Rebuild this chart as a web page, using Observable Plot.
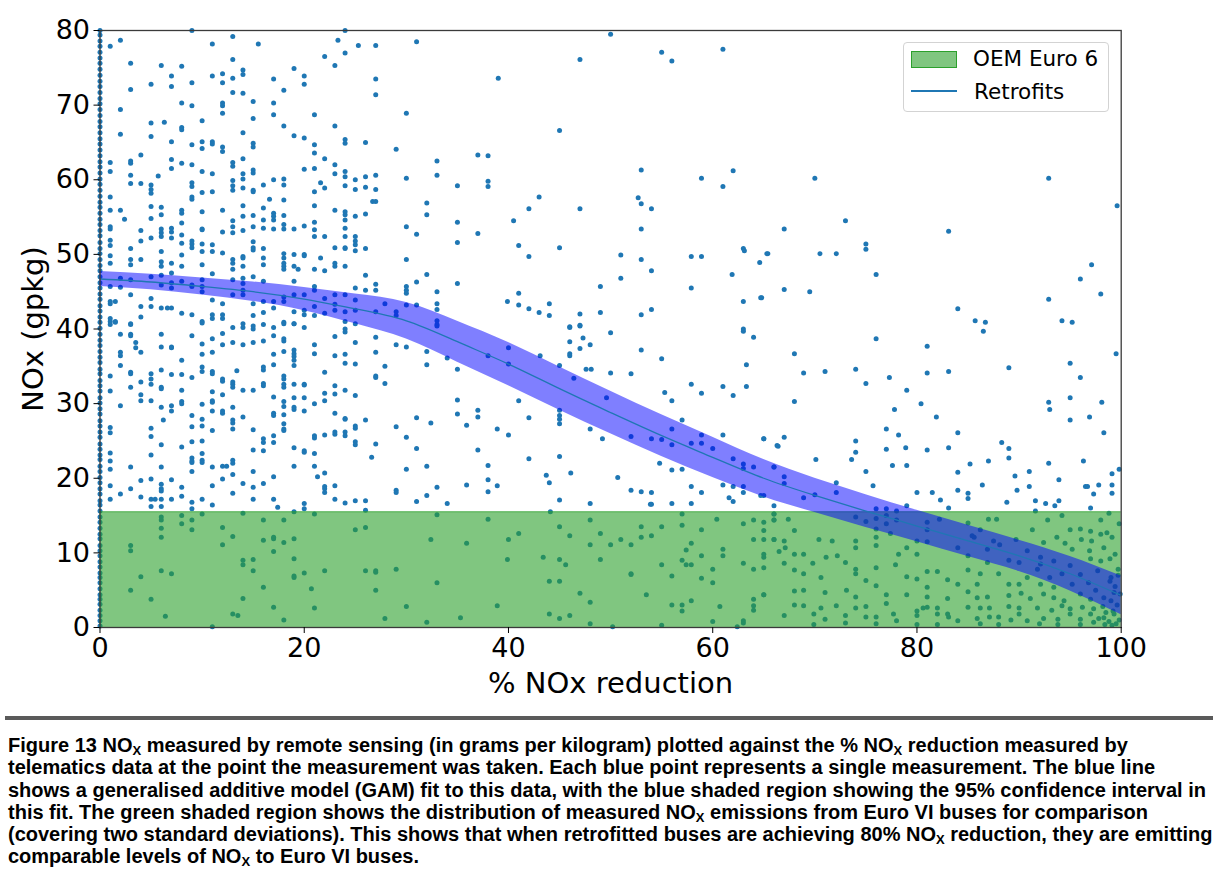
<!DOCTYPE html>
<html>
<head>
<meta charset="utf-8">
<script src="https://cdn.jsdelivr.net/npm/d3@7"></script>
<script src="https://cdn.jsdelivr.net/npm/@observablehq/plot@0.6"></script>
<style>
  body { margin: 0; background: #fff; }
  #wrap { position: relative; width: 1220px; }
  #legend { position: absolute; left: 903px; top: 42px; width: 206px; height: 70px; border: 1px solid #d3d3d3; border-radius: 4px; background: rgba(255,255,255,0.85); box-sizing: border-box; }
  .lg { position: absolute; font-family: "DejaVu Sans", sans-serif; font-size: 21.5px; color: #000; line-height: 1; }
  #rule { margin-left: 5px; width: 1208px; height: 4px; background: #5a5a5a; margin-top: 6px; }
  #caption { font-family: "Liberation Sans", Arial, sans-serif; font-weight: bold; font-size: 20px; line-height: 22.3px; padding-left: 8px; margin-top: 14px; white-space: nowrap; color: #000; }
  #caption sub { font-size: 13px; vertical-align: -3px; line-height: 0; }
</style>
</head>
<body>
<div id="wrap">
  <div id="chart"></div>
  <div id="legend"></div>
  <div class="lg" style="left:911px; top:51px; width:44px; height:15px; background:rgba(44,160,44,0.6); border:1px solid #2ca02c;"></div>
  <div class="lg" style="left:973px; top:48px;">OEM Euro 6</div>
  <div class="lg" style="left:911px; top:90px; width:46px; height:1.6px; background:#1f77b4;"></div>
  <div class="lg" style="left:974px; top:81px;">Retrofits</div>
  <div id="rule"></div>
  <div id="caption">
    Figure 13 NO<sub>X</sub> measured by remote sensing (in grams per kilogram) plotted against the % NO<sub>X</sub> reduction measured by<br>
    telematics data at the point the measurement was taken. Each blue point represents a single measurement. The blue line<br>
    shows a generalised additive model (GAM) fit to this data, with the blue shaded region showing the 95% confidence interval in<br>
    this fit. The green shaded region shows the distribution of measured NO<sub>X</sub> emissions from Euro VI buses for comparison<br>
    (covering two standard deviations). This shows that when retrofitted buses are achieving 80% NO<sub>X</sub> reduction, they are emitting<br>
    comparable levels of NO<sub>X</sub> to Euro VI buses.
  </div>
</div>
<script>
// Retrofit measurements: [% NOx reduction, NOx gpkg]
const ptsUpperLeft = [
[1,77.9],[1,62.3],[1,61.1],[1,57.7],[1,55.9],[1,53.7],[1,53.4],[1,51.9],[1,51.2],[1,49.8],[1,48.8],[1,45.7],[1,43.7],[1,43.4],[1,41.4],[1,41.0],[1.5,43.7],[1.5,41.0],
[2,78.7],[2,69.4],[2,66.1],[2,55.9],[2,46.8],[2,45.6],
[2.4,54.7],[3,75.6],[3,72.1],[3,62.5],[3,62.2],[3,60.6],[3,59.5],[3,50.8],[3,49.3],[3,48.6],[3,46.6],[3,44.6],[3,40.7],
[4,63.3],[4,59.5],[4,53.2],[4,51.8],[4,49.3],[4,43.0],[4,41.6],
[5,72.8],[5,67.6],[5,65.8],[5,59.3],[5,58.7],[5,58.2],[5,56.4],[5,54.8],[5,52.2],[5,47.0],[5,44.1],[5,43.0],
[5.7,60.5],[6,75.3],[6,56.3],[6,55.3],[6,53.4],[6,52.9],[6,52.4],[6,50.4],[6,49.0],[6,48.4],[6,47.2],[6,45.9],[6,42.8],[6.3,67.7],
[7,73.9],[7,72.5],[7,65.1],[7,62.7],[7,61.5],[7,53.5],[7,53.0],[7,52.2],[7,48.8],[7,47.5],[7,46.2],[7,45.5],[7,42.8],[6.6,42.8],
[8,75.2],[8,70.3],[8,67.0],[8,66.7],[8,62.2],[8,55.5],[8,55.9],[8,54.2],[8,52.6],[8,51.5],[8,49.9],[8,48.4],[8,46.4],[8,42.1],
[9,80],[9,73.0],[9,69.9],[9,64.7],[9,62.0],[9,59.6],[9,59.1],[9,57.7],[9,57.4],[9,51.8],[9,51.4],[9,50.9],[9,45.9],[9,45.7],[9,41.9],
[10,67.9],[10,65.1],[10,64.2],[10,61.1],[10,58.3],[10,55.7],[10,53.4],[10,53.3],[10,51.4],[10,50.4],[10,48.6],[10,46.6],[10,45.7],[10,45.0],[10,41.0],
[11,78.2],[11,73.9],[11,65.1],[11,64.8],[11,60.8],[11,58.4],[11,51.3],[11,50.4],[11,47.4],[11,43.9],[11,41.9],[11,41.4],
[12,74.2],[12,73.0],[12,70.3],[12,69.9],[12,68.9],[12,64.4],[12,63.8],[12,55.9],[12,53.0],[12,50.2],[12,43.4],[12,41.9],[12,41.4],
[13,79.2],[13,76.1],[13,73.6],[13,71.7],[13,62.3],[13,61.8],[13,59.9],[13,59.2],[13,58.6],[13,54.5],[13,53.7],[13,52.9],[13,49.3],[13,48.8],[13,48.0],[13,46.6],[13,44.6],[13,40.2],
[14,74.7],[14,74.1],[14,71.6],[14,66.3],[14,62.8],[14,60.8],[14,60.1],[14,58.9],[14,56.5],[14,55.1],[14,53.2],[14,49.7],[14,49.5],[14,48.4],[14,46.8],[14,46.1],[14,45.2],[14,44.6],[14,40.7],
[15,70.5],[15,68.2],[15,64.9],[15,64.4],[15,61.3],[15,60.9],[15,58.6],[15,58.4],[15,55.2],[15,53.7],[15,51.7],[15,50.9],[15,50.6],[15,47.0],[15,43.4],[15,41.8],[15.5,78.2],
[16,59.3],[16,56.2],[16,54.6],[16,53.5],[16,50.8],[16,49.5],[16,48.6],[16,46.4],[16,43.7],[16,42.2],[16,40.6],[16.6,57.4],
[17,73.5],[17,70.3],[17,68.7],[17,60.0],[17,55.5],[17,55.1],[17,54.6],[17,53.4],[17,43.7],[17,42.8],
[18,72.0],[18,67.2],[18,60.1],[18,59.3],[18,57.3],[18,55.2],[18,54.0],[18,53.4],[18,50.1],[18,49.5],[18,48.8],[18,48.4],[18,48.0],[18,44.3],[18,43.7],[18,40.9],
[19,74.9],[19,65.9],[19,53.4],[19,50.0],[19,48.4],[19,46.4],[19,44.6],[19,42.3],[19,40.7],[19.4,48.0],
[20,73.9],[20,72.8],[20,65.6],[20,61.4],[20,53.8],[20,50.0],[20,49.8],[20,44.6],[20,42.5],[20,41.9],
[21,68.7],[21,64.7],[21,63.6],[21,61.5],[21,58.4],[21,56.5],[21,54.3],[21,53.3],[21,52.4],[21,48.0],[21,45.7],[21,45.2],[21,43.0],[21,41.8],[21.6,59.6],[21.6,49.5],
[22,76.5],[22,62.8],[22,58.9],[22,52.4],[22,47.8],[22,44.1],[22,42.1],
[23,75.3],[23,67.2],[23,62.0],[23,60.8],[23,55.9],[23,50.9],[23,48.8],[23,48.4],[23,44.6],[23,43.3],[23,42.5],[23.3,78.7],
[24,80],[24,77.0],[24,65.4],[24,64.9],[24,61.1],[24,60.4],[24,59.2],[24,55.7],[24,55.3],[24,54.6],[24,53.5],[24,52.4],[24,50.9],[24,50.8],[24,48.4],[24,44.6],[24,42.3],[24,41.0],
[25,60.0],[25,58.7],[25,55.1],[25,52.4],[25,51.8],[25,51.3],[25,50.5],[25,45.5],[25,43.9],[25,42.5],[25,40.7],
[25.3,78.0],[26,65.0],[26,60.4],[26,59.0],[26,55.4],[26,50.8],[26,47.2],[26,45.2],
[27,78.0],[27,73.5],[27,71.4],[27,60.6],[27,58.7],[26.7,57.1],[27,57.1],[27,46.0],[27,45.2],[27,42.3]
];
const ptsLowerLeft = [
[1,40.6],[1,33.7],[1,31.7],[1,26.8],[1,26.1],[1,23.4],[1,22.3],[1,21.2],[1,19.0],[1,17.2],[1.5,40.9],
[2,39.3],[2,36.9],[2,36.4],[2,35.1],[2,29.7],[2,17.9],
[3,40.6],[3,39.3],[3,39.1],[3,34.2],[3,34.0],[3,32.2],[3,21.5],[3,18.6],[3,11.0],[3,10.3],[3,5.0],
[3.5,38.2],[3.5,37.5],
[4,36.9],[4,32.9],[4,31.2],[4,30.4],[4,19.7],[4,17.5],[4,6.8],
[5,34.0],[5,33.3],[5,32.6],[5,30.4],[5,26.7],[5,25.6],[5,23.1],[5,19.9],[5,17.2],[5,16.2],[5,3.8],[5.4,17.2],
[6,39.3],[6,37.6],[6,34.5],[6,32.2],[6,32.0],[6,29.5],[6,24.5],[6,21.5],[6,19.2],[6,18.6],[6,18.3],[6,17.2],[6,16.2],[6,14.8],[6,14.4],[6,13.3],[6,12.1],[6,7.6],[6.2,27.8],[6.4,1.5],
[7,37.6],[7,37.5],[7,33.9],[7,29.7],[7,29.0],[7,19.8],[7,17.2],[7,7.2],
[8,35.8],[8,33.9],[8,31.8],[8,30.3],[8,30.0],[8,24.2],[8,18.8],[8,17.6],[8,15.0],[8,13.9],
[9,39.1],[9,33.5],[9,28.4],[9,26.9],[9,24.9],[9,22.7],[9,22.3],[9,22.1],[9,20.9],[9,16.8],[9,15.9],[9,14.4],[9,13.1],
[10,40.8],[10,38.0],[10,36.6],[10,34.9],[10,34.3],[10,29.9],[10,27.9],[10,27.0],[10,25.0],[10,23.3],[10,22.4],[10,22.1],[10,17.2],[10,15.2],
[11,38.7],[11,36.9],[11,34.3],[11,34.0],[11,31.6],[11,30.4],[11,30.2],[11,29.0],[11,26.4],[11,21.5],[11,19.0],[11,16.4],[11,0.1],
[12,39.4],[12,37.9],[12,33.3],[12,33.0],[12,31.2],[12,29.0],[12,28.7],[12,21.6],[12,19.9],[12,13.4],[12,11.1],[12.4,21.6],
[13,38.2],[13,32.9],[13,32.6],[13,32.2],[13,29.5],[13,27.8],[13,27.4],[13,26.6],[13,22.4],[13,22.0],[13,20.5],[13,18.0],[13,12.2],[13,1.8],[13.5,1.6],[13.4,34.4],
[14,40.2],[14,37.9],[14,31.8],[14,28.2],[14,19.3],[14,15.3],[14,9.0],[14,8.4],[14,3.9],
[15,40.4],[15,40.0],[15,38.2],[15,31.8],[15,26.5],[15,23.8],[15,20.9],[15,18.8],[15,17.2],[15,9.1],[15,7.6],
[16,38.4],[16,34.9],[16,34.5],[16,32.7],[16,32.4],[16,25.3],[16,24.8],[16,23.7],[16,19.3],[16,14.4],[16,11.7],[16,5.4],
[17,40.2],[17,39.1],[17,36.6],[17,35.2],[17,30.9],[17,28.7],[17,28.4],[17,25.7],[17,24.8],[17,20.2],[17,17.2],[17,12.1],[17,11.9],[17,10.2],[17,2.7],[17.4,16.1],
[18,40.7],[18,38.7],[18,38.4],[18,37.0],[18,33.7],[18,33.3],[18,32.6],[18,32.2],[18,30.3],[18,29.6],[18,28.5],[18,27.3],[18,26.6],[18,26.4],[18,14.4],[18,11.4],[18,1.0],
[19,40.7],[19,37.2],[19,36.7],[19,36.3],[19,35.8],[19,35.1],[19,32.6],[19,30.8],[19,29.5],[19,29.2],[19,24.1],[19,21.6],[19,15.5],[19,11.9],[19,9.2],[19,6.9],[19,6.7],
[20,40.2],[20,32.6],[20,32.5],[20,30.8],[20,29.0],[20,23.7],[20,23.5],[20,16.6],[20,15.9],[20,7.3],
[21,37.9],[21,36.7],[21,30.0],[21,25.7],[21,25.4],[21,23.3],[21,21.6],[21,15.2],[21,2.6],[20.7,5.2],
[21.3,20.2],[22,34.2],[22,31.4],[22,30.4],[22,25.8],[22,20.7],[22,18.9],[22,18.6],[22,18.1],[22,7.6],
[23,39.0],[23,36.4],[23,32.4],[23,31.3],[23,28.7],[23,26.2],[23,25.9],[23,19.0],[23,17.2],
[24,40.0],[24,39.6],[24,36.6],[24,35.4],[24,31.8],[24,28.0],[24,27.9],[24,26.2],[24,25.7],[24,16.7],
[25,38.2],[25,35.3],[25,31.1],[25,27.0],[25,26.7],[25,24.9],[25,24.5],[25,17.0],[25,13.1],
[26,27.8],[26,17.0],[26,15.7],[26,13.4],[26,7.6],
[27,38.9],[27,36.9],[27,33.7],[27,33.5],[27,24.6],[27,7.6],[27,5.0],[27,7.4],[26.6,22.8]
];
const ptsUpperMid = [
[31,78.5],[39,73.6],[30,68.9],[45,66.6],[29,64.1],[37,63.3],[38,63.2],[33,62.5],[33,60.6],[30,60.2],[35,59.2],[38,59.8],[38,59.1],
[43,57.7],[32,56.9],[42,56.1],[47,56.1],[32,55.3],[40.5,54.5],[35,54.3],[30,53.7],[31,52.7],[37,52.8],[35,51.6],[41,51.2],[45,50.9],
[42,49.7],[30,49.3],[32,47.3],[31,46.3],[35,46.1],[30,45.7],[30,45.2],[30,44.8],[33,45.0],[39.9,43.7],[41,44.8],[41,43.2],[42,42.7],
[43,42.2],[44,43.4],[44,41.8],[27.9,43.4],[29,42.3],[29,41.8],[30,43.2],[31,43.2],[33,43.4],[33,42.6],[33,41.1],[33,40.4],[46,40.3],
[47,42.0],[47,40.5],[49,45.7],[49,42.2],[51,49.9],[51,46.8],[53,61.3],[52.7,57.6],[53,56.8],[54,56.1],[53,53.4],[53,49.3],[54,47.8],
[53,41.9],[54,42.6],[47,76.1],[50,79.5],[55,77.1],[56,75.9],[61,77.5],[58.9,60.2],[62,61.2],[61,59.1],[57.9,49.7],[58.9,49.7],
[57.9,45.5],[63,50.8],[63.1,50.5],[61.9,47.3],[64.6,48.9],[65.4,50.1],[63,43.7],[64.8,44.2],[63,40.0]
];
const ptsLowerMid = [
[33,40.6],[27.9,35.0],[27.9,32.7],[29,37.9],[30,37.6],[32,37.0],[32,35.2],[34,36.1],[35,34.6],[35,30.5],[35,28.6],[37,29.1],[37,28.2],
[38,36.4],[40,37.5],[40,35.3],[41,30.4],[42,28.1],[43.1,36.4],[45,35.1],[46,40.2],[47,40.4],[46,38.3],[47.3,38.8],[47,37.4],[48,37.9],
[50,39.5],[46,36.7],[46,36.4],[47.6,34.6],[48.1,34.6],[46.4,33.4],[50,34.1],[52,34.0],[53,37.2],[55,36.0],[49.6,30.8],
[45,29.1],[45,28.4],[45,27.9],[45,27.3],[29,26.9],[31,28.1],[32.4,27.4],[35.9,27.1],[38.9,26.6],[40,25.8],[48,26.6],[49.2,25.3],
[52,25.6],[54,25.3],[55,25.2],[56,26.6],[56,24.5],[55.3,31.5],[56,30.4],[57.9,32.6],[58.9,31.4],[61,32.3],[62,31.1],[63,39.7],[64,38.9],
[63.3,35.2],[63.3,32.3],[57,27.8],[58.9,25.8],[61,25.8],[65,25.3],[66.3,24.4],[30,25.5],[31,24.0],[32,21.6],[30,21.2],[32,17.7],[31,16.9],
[33,18.8],[34,16.6],[35.9,19.1],[37,23.8],[38,21.7],[38,19.8],[38,18.2],[38.9,19.0],[29,18.4],[29,18.1],[42,22.6],[43.7,20.4],[44,19.4],
[45,22.9],[46.1,20.7],[45,17.1],[48,16.6],[50.7,20.1],[52,18.4],[53,18.2],[54,18.1],[54,16.5],[54.8,22.0],[56,21.1],[57,21.2],
[57.9,24.7],[58.9,24.7],[60,24.0],[57.9,18.9],[58.9,18.1],[56,16.6],[57.9,16.6],[61,19.1],[62,22.6],[63,21.9],[63,21.3],[64,21.5],[66,21.5],
[62,18.9],[63,18.9],[63,18.1],[61.6,17.4],[62,16.9],[65,17.7],[53.9,16.5],
[44.1,15.5],[33,15.1],[38,14.5],[41,12.6],[45,13.5],[46,12.3],[48,14.4],[49,12.6],[32.4,11.8],[35.9,11.3],[40,11.8],[48,11.1],[50,11.1],
[51,11.8],[52,11.1],[53,13.5],[53,12.1],[54,12.3],[55,13.5],[57,15.2],[57,13.7],[58.9,13.1],[60.4,14.5],[57.9,11.3],[57.4,10.4],[61,10.5],
[61,9.6],[63,13.9],[64,14.4],[65,14.1],[66,15.2],[66,14.4],[64,11.8],[65,11.8],[66,11.8],[66.5,10.2],[29,7.8],[39.9,9.1],[43.4,9.4],
[45,9.1],[45.6,8.4],[49,9.1],[52,7.2],[52,7.1],[55,8.4],[56,6.9],[57,9.0],[57.4,8.4],[57.9,8.4],[58.9,9.6],[60,7.8],[58.9,6.6],[60,6.0],
[63,8.6],[64,7.8],[65,9.4],[33,6.0],[44,6.2],[45,6.2],[47,4.6],[48,3.4],[53.5,4.4],[57.9,3.6],[30,2.8],[38.9,2.9],[56,3.0],[57,3.0],[57,2.2],
[60.7,2.8],[65,4.4],[64,3.8],[64,2.9],[64,2.3],[27.9,1.2],[35.3,1.3],[32,0.7],[44,1.8],[45,1.2],[46,1.6],[48,0.5],[60,0.8],[63,0.9],[63,0.6],
[55,0.3],[50.2,0.1],[62.4,0.1]
];
const ptsUpperRight = [
[70,60.2],[92.9,60.2],[99.6,56.5],[73,54.5],[67,53.4],[83.1,53.1],[65.3,50.1],[70.5,50.1],[72.1,50.1],[75,51.4],[75,50.7],[76,47.3],
[67,45.3],[69.5,45.0],[64.7,44.2],[96,46.7],[97.1,48.6],[98,44.7],[92.9,44.0],[94.2,41.1],[84,42.7],[85.7,41.1]
];
const ptsLowerRight = [
[86.7,40.9],[86.5,39.7],[95.2,40.9],[76,38.7],[81,37.7],[99.5,36.7],[68,36.7],[68.9,34.1],[71,34.3],[74,34.6],[75,32.7],[77.3,33.5],
[81,34.1],[83.1,34.3],[89,34.8],[95,35.4],[96,33.5],[68,30.3],[79,31.8],[80.4,30.0],[77.8,29.2],[81.9,28.2],[92.9,30.2],[93,29.2],
[95,30.8],[96.9,28.2],[98.1,30.2],[95,27.8],[98.3,26.1],[65,25.3],[67,25.5],[66.4,24.3],[77,26.6],[74,25.0],[74,23.5],[77,23.9],
[78.2,25.8],[78.9,24.1],[81,23.8],[83.1,24.1],[84,26.1],[88.3,24.8],[89,24.0],[89,22.7],[70.1,22.5],[73.6,22.5],[77.6,21.7],[79,21.7],
[85.2,21.9],[87,22.3],[92.9,22.0],[96.3,22.3],[66,21.5],[67,19.3],[67,20.2],[75,20.9],[72.1,19.4],[75.7,19.0],[84,20.8],[84,18.4],
[85,18.0],[85,17.3],[86.4,19.1],[89.6,20.3],[91,20.9],[89.8,18.4],[91,18.9],[93.9,19.8],[96.5,18.9],[96.7,18.9],[97.8,19.1],[99.1,20.6],
[99.1,19.1],[99.1,18.0],[99.8,21.2],[97.3,17.9],[80,18.1],[81.5,18.1],[82.3,17.1],[70,17.8],[68.9,17.4],[72.1,18.1],[66,16.3],[88.8,16.8],
[91.6,17.0],[92.6,16.6],[93.5,16.3],[93.9,17.0],[91.6,15.6],[97,16.0],[83.1,16.0],[79,16.3],[76,15.9],[77,15.9],[78,15.6],[64.7,17.7],
[66,15.2],[66,14.4],[67.4,14.5],[74,14.8],[75,14.2],[76,14.6],[77,15.0],[77,13.9],[78,14.4],[81,14.1],[82.2,14.5],[85,14.0],[87,14.5],
[87.8,14.5],[92.8,14.4],[94.2,15.0],[98,14.4],[98.8,15.3],[99.8,13.9],[98.6,12.7],[65,13.0],[68,13.0],[76,13.2],[77.4,12.6],[81,13.1],
[86.2,13.1],[85.4,12.3],[91.3,13.1],[95,13.1],[96,13.2],[97,12.9],[98,12.5],[66,11.8],[67,11.6],[70.4,11.8],[71.7,11.6],[74,11.6],
[76,12.1],[80,11.6],[81,11.5],[85.6,12.1],[87.5,11.6],[89.7,11.8],[92.4,11.4],[93.7,12.1],[96.1,11.8],[97.1,11.6],[99.1,12.1],
[65,9.8],[67.1,10.7],[74,10.7],[76,11.0],[79,10.7],[84,10.7],[86.9,10.5],[88.1,11.1],[90.8,10.3],[92.1,9.4],[94.5,11.3],[95.2,10.5],
[96.9,10.3],[98.3,10.7],[99.4,9.8],[68,9.8],[68.9,9.8],[71.1,9.4],[72.2,9.6],[78.2,9.8],[80,9.8],[85,9.6],[86.9,8.7],[89,9.0],[90,8.7],
[92.1,8.5],[93.4,8.9],[95,8.3],[97,9.2],[98,8.9],[98.9,9.2],[99.7,7.8],[67,8.6],[69.8,8.6],[73,8.7],[76,8.0],[77.9,8.4],[81,7.5],[82,7.5],
[85,7.7],[86.2,7.2],[88,7.2],[90.8,6.7],[91.8,7.8],[93,6.7],[94.2,7.2],[96,7.1],[97.7,7.6],[99,6.7],[65,8.0],[68,7.7],[68.9,7.2],[70.6,6.7],
[74,7.8],[74,7.2],[75,6.3],[79,6.8],[80,6.5],[83,6.4],[84,5.8],[85.9,5.8],[89,5.8],[90,5.8],[92.1,5.8],[93.4,5.4],[95.2,5.8],
[65,4.4],[68,4.9],[68.9,5.0],[71,4.7],[73.1,5.0],[74,4.1],[76,5.6],[77,4.4],[79,4.4],[81,5.4],[81,4.1],[83,3.9],[85,4.8],[85.9,4.0],
[86.9,4.1],[89,4.3],[90.2,4.6],[91.1,3.9],[92.4,4.5],[93.4,4.0],[94.4,3.6],[96,4.5],[97,3.8],[98.3,4.0],[99.3,4.7],
[68,3.0],[68.9,2.9],[70.6,2.6],[72.1,2.9],[74,2.6],[75,2.8],[77,3.2],[80,2.2],[80.6,2.6],[81,2.7],[82,2.6],[83,1.8],[85,2.7],[86.2,2.6],
[87.1,2.6],[89,2.8],[90,2.6],[91.8,2.6],[93.2,2.3],[94.2,2.9],[95,2.5],[96.2,2.7],[97.3,2.5],
[67,1.6],[69.9,1.8],[71,1.1],[73,1.6],[75,1.4],[76,1.4],[77.7,1.8],[78,0.9],[80,1.6],[82,1.8],[83.1,1.4],[84,0.9],[85.9,1.2],[87.1,1.4],
[88,1.4],[89.2,1.0],[90,1.8],[90.8,0.9],[92.4,1.2],[93.8,1.1],[95,1.8],[96,1.1],[97,1.8],[98.3,1.3],[99.3,1.8],
[69.9,0.4],[73,0.6],[76,0.5],[80,0.4],[82,0.4],[86.2,0.5],[88,0.4],[92,0.5],[93.8,0.4],[96,0.4],[97.3,0.7],
[99.5,0.5],[99.8,1.0],[99.2,2.2],[98.8,0.8],[99.6,3.0],[98.5,2.0],[99.9,4.5],[99.0,3.6],[97.8,1.2],[98.2,2.8],[99.4,5.5],[98.9,6.2],
[99.7,7.0],[97.5,5.0],[96.8,6.0],[99.1,0.3],[98.4,0.4]
];
// Measurements stacked at 0 % reduction
const zeroColumnY = [0.2,0.9,1.6,2.3,3.1,3.8,4.4,5.2,6.0,6.7,7.3,8.1,8.8,9.6,10.3,11.0,11.9,12.5,13.3,14.1,14.8,15.6,16.4,17.0,17.9,
18.6,19.4,20.1,20.9,21.6,22.5,23.1,23.9,24.6,25.5,26.2,27.0,27.7,28.6,29.3,30.1,30.8,31.7,32.4,33.1,34.0,34.6,35.5,36.2,37.0,
37.8,38.5,39.3,40.1,40.9,41.6,42.4,43.1,44.0,44.7,45.5,46.2,47.0,47.8,48.5,49.3,50.1,50.8,51.6,52.5,53.2,54.0,54.7,55.5,
56.3,57.0,57.8,58.6,59.4,60.1,60.9,61.7,62.4,63.2,64.0,64.8,65.5,66.3,67.1,67.8,68.6,69.4,70.2,70.9,71.7,72.5,73.2,74.0,
74.8,75.6,76.3,77.1,77.9,78.6,79.4,80.0];

// GAM fit and 95% confidence interval
const gamX  = [0,5,10,15,20,25,30,35,40,45,50,55,60,65,70,75,80,85,90,95,100];
const gamY  = [46.7,46.3,45.7,45.0,44.0,42.7,41.1,38.3,35.3,32.0,28.8,25.7,22.8,20.0,17.7,15.6,13.6,11.6,9.6,7.2,4.3];
const gamLo = [45.7,45.25,44.55,43.7,42.45,40.7,38.65,35.55,32.4,29.1,25.95,22.9,20.1,17.5,15.4,13.4,11.5,9.5,7.5,4.9,1.7];
const gamHi = [47.7,47.35,46.85,46.3,45.55,44.7,43.55,41.05,38.2,34.9,31.65,28.5,25.5,22.5,20.0,17.8,15.7,13.7,11.7,9.5,6.9];

// OEM Euro 6 band (two standard deviations)
const euroBand = [0, 15.5];

const xTicks = [0,20,40,60,80,100];
const yTicks = [0,10,20,30,40,50,60,70,80];

const points = [...ptsUpperLeft, ...ptsLowerLeft, ...ptsUpperMid, ...ptsLowerMid, ...ptsUpperRight, ...ptsLowerRight]
  .map(([x, y]) => ({x, y}))
  .concat(zeroColumnY.map(y => ({x: 0, y})));
const gam = gamX.map((x, i) => ({x, y: gamY[i], lo: gamLo[i], hi: gamHi[i]}));

const chart = Plot.plot({
  width: 1220,
  height: 710,
  marginLeft: 99.5,
  marginRight: 99.3,
  marginTop: 30,
  marginBottom: 83,
  style: {fontFamily: "DejaVu Sans", color: "#000", background: "#fff"},
  x: {domain: [0, 100]},
  y: {domain: [0, 80]},
  marks: [
    Plot.dot(points, {x: "x", y: "y", r: 2.5, fill: "#1f77b4", stroke: null}),
    Plot.rect([{y1: euroBand[0], y2: euroBand[1]}], {x1: 0, x2: 100, y1: "y1", y2: "y2", fill: "#2ca02c", fillOpacity: 0.6}),
    Plot.ruleY([euroBand[1]], {stroke: "#2ca02c", strokeOpacity: 0.6, strokeWidth: 1}),
    Plot.areaY(gam, {x: "x", y1: "lo", y2: "hi", fill: "#0000ff", fillOpacity: 0.5, curve: "natural"}),
    Plot.line(gam, {x: "x", y: "y", stroke: "#1f77b4", strokeWidth: 1.3, curve: "natural"}),
    Plot.frame({stroke: "#3a3a3a", strokeWidth: 1.3}),
    Plot.axisX({ticks: xTicks, tickSize: 6, tickPadding: 4, fontSize: 27, label: null, tickFormat: d => String(d)}),
    Plot.axisY({ticks: yTicks, tickSize: 6, tickPadding: 4, fontSize: 27, label: null, tickFormat: d => String(d)}),
    Plot.text(["% NOx reduction"], {frameAnchor: "bottom", dy: 56, lineAnchor: "middle", textAnchor: "middle", fontSize: 29, text: d => d}),
    Plot.text(["NOx (gpkg)"], {frameAnchor: "left", dx: -66, rotate: -90, lineAnchor: "middle", textAnchor: "middle", fontSize: 29, text: d => d})
  ]
});
document.getElementById("chart").appendChild(chart);
</script>
</body>
</html>
